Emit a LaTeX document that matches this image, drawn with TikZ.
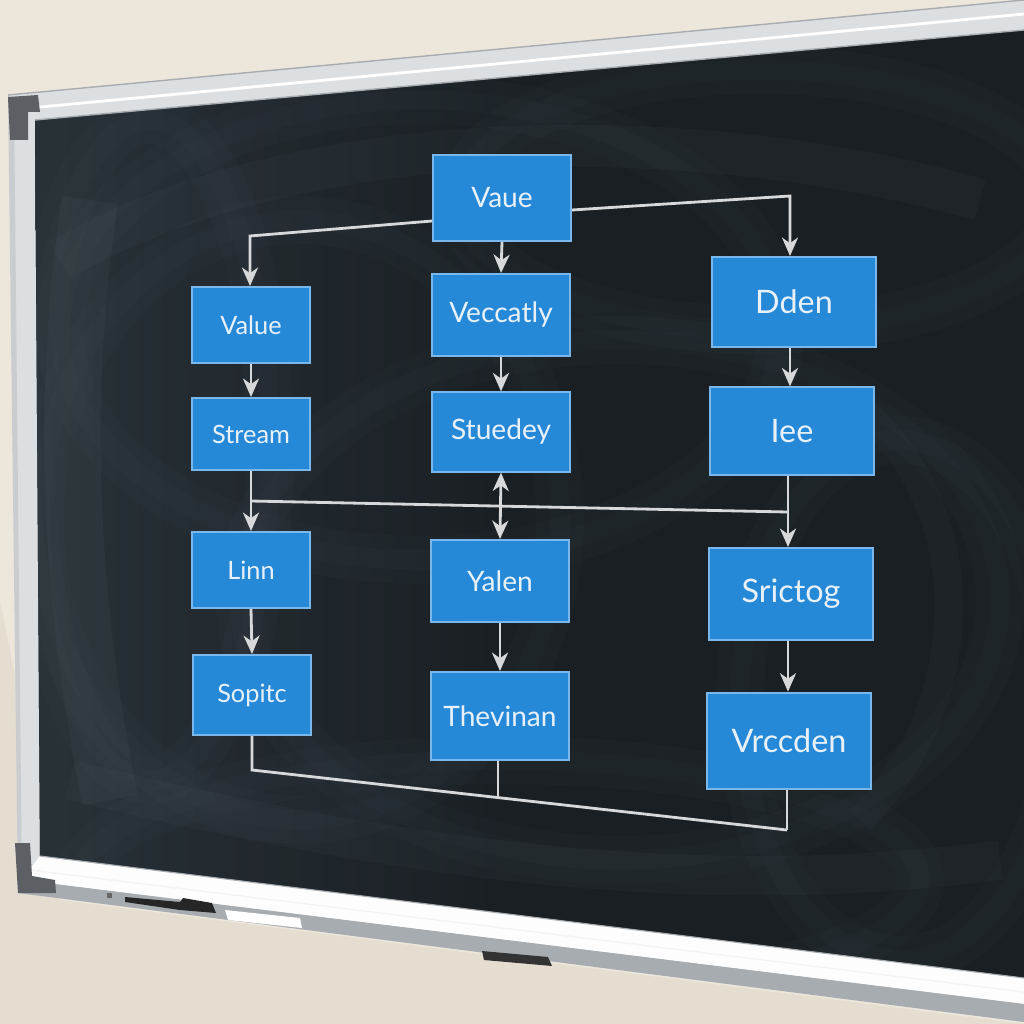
\documentclass[tikz,border=0pt]{standalone}
\usepackage{fontspec}
\setmainfont{Lato}
\usetikzlibrary{arrows.meta,calc}
\definecolor{wall}{HTML}{EDE7DB}
\definecolor{wallshade}{HTML}{DDD5C7}
\definecolor{board}{HTML}{1A1F23}
\definecolor{boardlight}{HTML}{2A343A}
\definecolor{frameA}{HTML}{DCDFE1}
\definecolor{frameB}{HTML}{A7ACB0}
\definecolor{cornergray}{HTML}{5C6064}
\definecolor{boxfill}{HTML}{2689D8}
\definecolor{boxedge}{HTML}{7AB7EA}
\definecolor{chalk}{HTML}{D6D8D9}
\definecolor{boxtext}{HTML}{E8F1FA}
\definecolor{smudge}{HTML}{8FA6B4}
\begin{document}
\begin{tikzpicture}[x=0.025cm,y=-0.025cm,
  box/.style={draw=boxedge, line width=1.4pt, fill=boxfill, text=boxtext, inner sep=0pt},
  boxL/.style={box, minimum width=2.95cm, font=\fontsize{18}{20}\selectfont},
  boxM/.style={box, minimum width=3.45cm, font=\fontsize{20}{22}\selectfont},
  boxR/.style={box, minimum width=4.12cm, font=\fontsize{23}{26}\selectfont},
  chalkline/.style={draw=chalk, line width=2pt},
  tipstyle/.style={},
  arr/.style={chalkline, -{Stealth[length=0.46cm,width=0.4cm,inset=0.14cm]}},
  darr/.style={chalkline, {Stealth[length=0.46cm,width=0.4cm,inset=0.14cm]}-{Stealth[length=0.46cm,width=0.4cm,inset=0.14cm]}}
]
\useasboundingbox (0,0) rectangle (1024,1024);
% wall
\fill[wall] (0,0) rectangle (1024,1024);
\fill[wallshade, opacity=0.5] (0,1024) -- (0,600) -- (60,900) -- (1024,1024) -- cycle;
% frame
\fill[frameA] (8,95) -- (1024,0) -- (1024,1022) -- (18,893) -- cycle;
\draw[frameB, line width=1pt] (8,95) -- (1024,0);
\draw[white, line width=2pt] (30,108) -- (1024,14);
% board
\fill[board] (35,120) -- (1024,30) -- (1024,978) -- (40,856) -- cycle;
\begin{scope}
  \clip (35,120) -- (1024,30) -- (1024,978) -- (40,856) -- cycle;
  \shade[left color=boardlight, right color=board, opacity=0.9] (35,30) rectangle (520,980);
  \foreach \cx/\cy/\rx/\ry in {420/330/360/230, 300/520/260/300, 620/600/380/260, 150/450/120/330, 760/200/300/130, 500/880/420/120, 900/700/160/260} {
    \draw[smudge, opacity=0.025, line width=34pt] (\cx,\cy) ellipse [x radius=\rx, y radius=\ry];
    \draw[smudge, opacity=0.025, line width=14pt] (\cx,\cy) ellipse [x radius=\rx, y radius=\ry];
  }
  \draw[smudge, opacity=0.04, line width=30pt] (60,260) .. controls (300,120) and (700,120) .. (980,200);
  \draw[smudge, opacity=0.04, line width=28pt] (70,780) .. controls (400,860) and (700,900) .. (1000,860);
  \draw[smudge, opacity=0.03, line width=20pt] (850,400) .. controls (980,500) and (980,700) .. (860,820);
  \draw[smudge, opacity=0.05, line width=40pt] (90,200) .. controls (60,400) and (70,600) .. (110,800);
\end{scope}
\draw[frameB, line width=1pt] (35,120) -- (1024,30);
% left frame shading
\fill[frameB, opacity=0.35] (8,95) -- (14,100) -- (22,888) -- (18,893) -- cycle;
% tray
\fill[white!94!frameA] (40,856) -- (1024,978) -- (1024,1004) -- (22,880) -- cycle;
\draw[frameB, line width=0.8pt] (40,856) -- (1024,978);
\fill[frameB] (22,880) -- (1024,1004) -- (1024,1022) -- (18,893) -- cycle;
\draw[white!85!frameB, line width=1pt] (30,870) -- (1024,992);
% corners
\fill[cornergray] (8,97) -- (38,95) -- (40,112) -- (28,112) -- (28,140) -- (10,140) -- cycle;
\fill[cornergray] (15,843) -- (30,843) -- (32,876) -- (55,880) -- (56,893) -- (18,893) -- cycle;
% tray items
\fill[black!85] (125,897) -- (180,902) -- (183,898) -- (212,903) -- (216,913) -- (180,910) -- (125,902) -- cycle;
\fill[white] (225,910) -- (300,918) -- (302,928) -- (228,920) -- cycle;
\fill[black!80] (482,951) -- (548,957) -- (552,966) -- (484,960) -- cycle;
\fill[black!60] (107,893) rectangle (112,898);

% boxes
\node[boxM, minimum height=2.15cm] (vaue) at (502,198) {Vaue};
\node[boxL, minimum height=1.9cm] (value) at (251,325) {Value};
\node[boxM, minimum height=2.05cm] (veccatly) at (501,315) {Veccatly};
\node[boxR, minimum height=2.25cm] (dden) at (794,302) {Dden};
\node[boxL, minimum height=1.8cm] (stream) at (251,434) {Stream};
\node[boxM, minimum height=1.98cm] (stuedey) at (501,432) {Stuedey};
\node[boxR, minimum height=2.18cm] (iee) at (792,431) {Iee};
\node[boxL, minimum height=1.9cm] (linn) at (251,570) {Linn};
\node[boxM, minimum height=2.05cm] (yalen) at (500,581) {Yalen};
\node[boxR, minimum height=2.3cm] (srictog) at (791,594) {Srictog};
\node[boxL, minimum height=2.0cm] (sopitc) at (252,695) {Sopitc};
\node[boxM, minimum height=2.2cm] (thevinan) at (500,716) {Thevinan};
\node[boxR, minimum height=2.42cm] (vrccden) at (789,741) {Vrccden};

% connectors
\coordinate (j1) at (250,236);
\coordinate (j2) at (790,196);
\draw[arr] ([yshift=-0.575cm]vaue.west) -- (j1) -- (j1 |- value.north);
\draw[arr] ([yshift=-0.3cm]vaue.east) -- (j2) -- (j2 |- dden.north);
\draw[arr] (vaue.south) -- (veccatly.north);
\draw[arr] (value.south) -- (stream.north);
\draw[arr] (veccatly.south) -- (stuedey.north);
\draw[arr] (j2 |- dden.south) -- (j2 |- iee.north);
\coordinate (h1) at (251,501);
\coordinate (h2) at (788,512);
\draw[arr] (stream.south) -- (linn.north);
\draw[chalkline] (h1) -- (h2);
\draw[arr] (h2 |- iee.south) -- (h2 |- srictog.north);
\draw[darr] (stuedey.south) -- (yalen.north);
\draw[arr] (linn.south) -- (sopitc.north);
\draw[arr] (yalen.south) -- (thevinan.north);
\draw[arr] (srictog.south -| h2) -- (h2 |- vrccden.north);
\coordinate (b1) at (252,770);
\coordinate (b2) at (498,797);
\coordinate (b3) at (787,830);
\draw[chalkline] (sopitc.south) -- (b1) -- (b3);
\draw[chalkline] (b2 |- thevinan.south) -- (b2);
\draw[chalkline] (b3 |- vrccden.south) -- (b3);
\end{tikzpicture}
\end{document}
